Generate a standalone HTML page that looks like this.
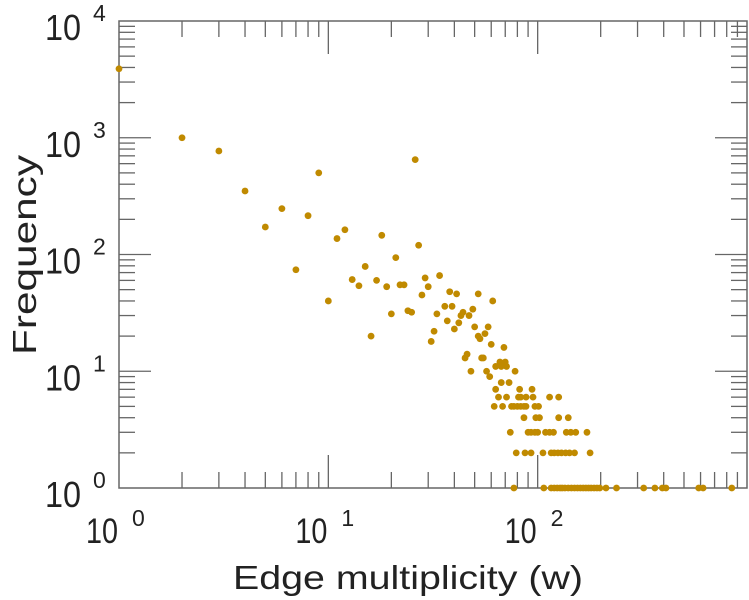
<!DOCTYPE html>
<html><head><meta charset="utf-8"><style>
body{margin:0;background:#fff;}
svg{display:block;font-family:"Liberation Sans",sans-serif;}
</style></head><body>
<svg id="chart" width="749" height="600" viewBox="0 0 749 600" xmlns="http://www.w3.org/2000/svg">
<g id="axes"></g>
<g id="points"></g>
<text x="408" y="589" font-size="33" fill="#222" text-anchor="middle" textLength="350" lengthAdjust="spacingAndGlyphs">Edge multiplicity (w)</text>
<text transform="translate(36,255) rotate(-90)" font-size="33" fill="#222" text-anchor="middle" textLength="200" lengthAdjust="spacingAndGlyphs">Frequency</text>
</svg>
<script>
const wValues = [1,2,3,4,5,6,7,8,9,10,11,12,13,14,15,16,17,18,19,20,21,22,23,24,25,26,27,28,29,30,31,
34,38,41,52,61,36,39,33,37,43,44,47,49,32,40,42,50,58,56,52,53,60,69,45,46,54,55,48,57,59,66,70,63,67,71,78,67,73,63,82,94,
65,71,81,83,88,95,114,126,62,68,75,77,80,83,86,88,97,101,86,98,102,126,140,74,90,93,97,100,109,114,119,137,144,152,172,
79,87,93,106,116,120,125,130,136,142,150,178,
77,107,116,120,124,128,131,135,140,145,150,155,160,165,170,175,180,186,192,198,212,238,321,363,394,410,588,617,846];
const freqValues = [3900,1000,770,350,172,247,74,215,500,40,137,163,61,54,79,20,60,146,53,31,94,55,55,33,32,650,120,45,63,53,18,
66,48,46,46,40,36,36,31,27,30,32,30,34,22,23,26,24,24,21,20,19,17,16,13,14,13,13,10,10,9,12,12,11,11,11,10,8,8,7,7,7,
6,6,6,6,6,6,6,6,5,5,5,5,5,5,5,5,5,5,4,4,4,4,4,3,3,3,3,3,3,3,3,3,3,3,3,
2,2,2,2,2,2,2,2,2,2,2,2,
1,1,1,1,1,1,1,1,1,1,1,1,1,1,1,1,1,1,1,1,1,1,1,1,1,1,1,1,1];
const xTickExps = [0,1,2];
const yTickExps = [0,1,2,3,4];

const L=119,R=747,T=21,B=488;
const xs = w => L + Math.log10(w)/3*(R-L);
const ys = f => B - Math.log10(f)/4*(B-T);
const NS="http://www.w3.org/2000/svg";
function mk(tag, attrs, parent){const e=document.createElementNS(NS,tag);for(const k in attrs)e.setAttribute(k,attrs[k]);parent.appendChild(e);return e;}
const axes=document.getElementById('axes');
const frame=mk('rect',{x:L,y:T,width:R-L,height:B-T,fill:'none',stroke:'#666','stroke-width':1.5},axes);


const tc='#666';
for(let d=0; d<3; d++){
  for(let m=1;m<=9;m++){
    const v=Math.pow(10,d)*m; const x=xs(v); const len = m===1?33:16;
    if(m===1 && d===0) continue;
    mk('line',{x1:x,x2:x,y1:B,y2:B-len,stroke:tc,'stroke-width':1.3},axes);
    mk('line',{x1:x,x2:x,y1:T,y2:T+len,stroke:tc,'stroke-width':1.3},axes);
  }
}
for(let d=0; d<4; d++){
  for(let m=1;m<=9;m++){
    const v=Math.pow(10,d)*m; const y=ys(v); const len=m===1?32:16;
    if(m===1 && d===0) continue;
    mk('line',{x1:L,x2:L+len,y1:y,y2:y,stroke:tc,'stroke-width':1.3},axes);
    mk('line',{x1:R,x2:R-len,y1:y,y2:y,stroke:tc,'stroke-width':1.3},axes);
  }
}
xTickExps.forEach(e=>{
  const x=xs(Math.pow(10,e));
  const t=mk('text',{x:x-33,y:543,'font-size':35,fill:'#222',textLength:32,lengthAdjust:'spacingAndGlyphs'},axes);
  t.textContent='10';
  
  
  const s=mk('text',{x:x+13,y:526,'font-size':23,fill:'#222'},axes);
  s.textContent=String(e);
  
  
});
yTickExps.forEach(e=>{
  const y=ys(Math.pow(10,e));
  const t=mk('text',{x:45,y:y+19,'font-size':36,fill:'#222',textLength:36,lengthAdjust:'spacingAndGlyphs'},axes);
  t.textContent='10';
  
  
  const s=mk('text',{x:93,y:y,'font-size':23,fill:'#222'},axes);
  s.textContent=String(e);
  
  
});
const pts=document.getElementById('points');
wValues.forEach((w,i)=>{
  const c=mk('circle',{cx:xs(w),cy:ys(freqValues[i]),r:3.4,fill:'#c08a00'},pts);
  
  
});
</script>
</body></html>
